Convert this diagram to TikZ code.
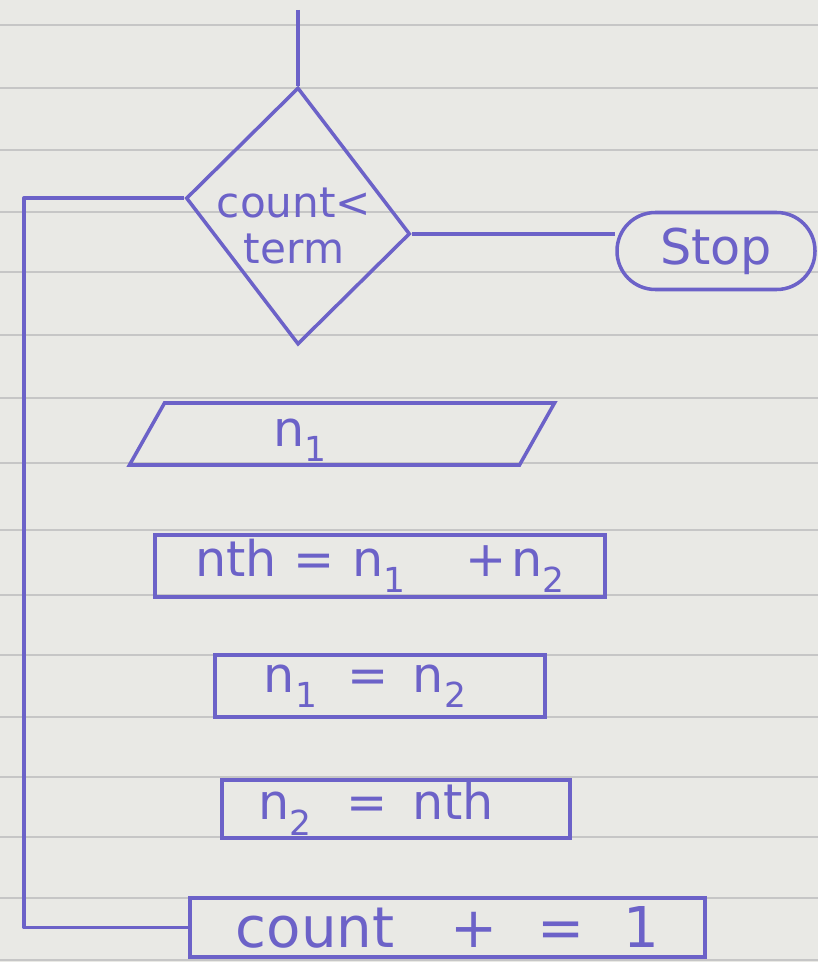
\documentclass[tikz,border=0pt]{standalone}
\usepackage{fontspec}
\setmainfont{DejaVu Sans}
\usetikzlibrary{shapes.geometric}
\definecolor{ink}{RGB}{108,98,200}
\definecolor{paper}{RGB}{233,233,229}
\definecolor{ruled}{RGB}{198,198,198}
\tikzset{
  ink/.style={draw=ink, line width=3pt, text=ink},
  box/.style={ink, rectangle, inner sep=0pt, font=\fontsize{42}{48}\selectfont},
  inktext/.style={text=ink, inner sep=0pt},
  link/.style={draw=ink, line width=3pt, line join=round},
  ruleline/.style={draw=ruled, line width=1pt}
}
\begin{document}
\begin{tikzpicture}[x=0.3mm,y=0.3mm]
\fill[paper] (0,0) rectangle (818,-962);
\useasboundingbox (0,0) rectangle (818,-962);
\foreach \yy in {25,88,150,212,272,335,398,463,530,595,655,717,777,837,898,960}
  \draw[ruleline] (0,-\yy) -- (818,-\yy);

% decision
\node[ink, diamond, inner sep=0pt, minimum width=67.2mm, minimum height=77.1mm, yslant=-0.16] (dec) at (298,-216) {};
\node[inktext, align=center, font=\fontsize{36}{40}\selectfont] (dectext) at (294,-226) {count<\\term};

% stop
\node[ink, rectangle, rounded corners=11.5mm, minimum width=59.4mm, minimum height=23.1mm, font=\fontsize{42}{48}\selectfont] (stop) at (716,-251) {Stop};

% input (parallelogram)
\node[ink, rectangle, xslant=0.565, inner sep=0pt, minimum width=117mm, minimum height=18.6mm] (inp) at (342,-434) {};
\node[inktext, font=\fontsize{42}{48}\selectfont] (inptext) at (300,-440) {n\textsubscript{1}};

% process boxes
\node[box, minimum width=135mm, minimum height=18.6mm] (p1) at (380,-566) {nth\hspace{0.35em}=\hspace{0.35em}n\textsubscript{1}\hspace{1.2em}+\hspace{0.1em}n\textsubscript{2}};
\node[box, minimum width=99mm, minimum height=18.6mm] (p2) at (380,-686) {\hspace{-0.6em}n\textsubscript{1}\hspace{0.6em}=\hspace{0.5em}n\textsubscript{2}};
\node[box, minimum width=104.4mm, minimum height=17.4mm] (p3) at (396,-809) {\hspace{-0.8em}n\textsubscript{2}\hspace{0.7em}=\hspace{0.5em}nth};
\node[box, minimum width=154.5mm, minimum height=17.7mm, font=\fontsize{48}{52}\selectfont] (cnt) at (447.5,-927.5) {count\hspace{1em}+\hspace{0.7em}=\hspace{0.7em}1};

% connectors
\coordinate (start) at (298,-10);
\coordinate (lp) at (24,0);
\draw[link] (start) -- (dec.north);
\draw[link] (dec.east) -- (dec.east -| stop.west);
\draw[link] (cnt.west) -- (cnt.west -| lp) |- (dec.west);
\end{tikzpicture}
\end{document}
